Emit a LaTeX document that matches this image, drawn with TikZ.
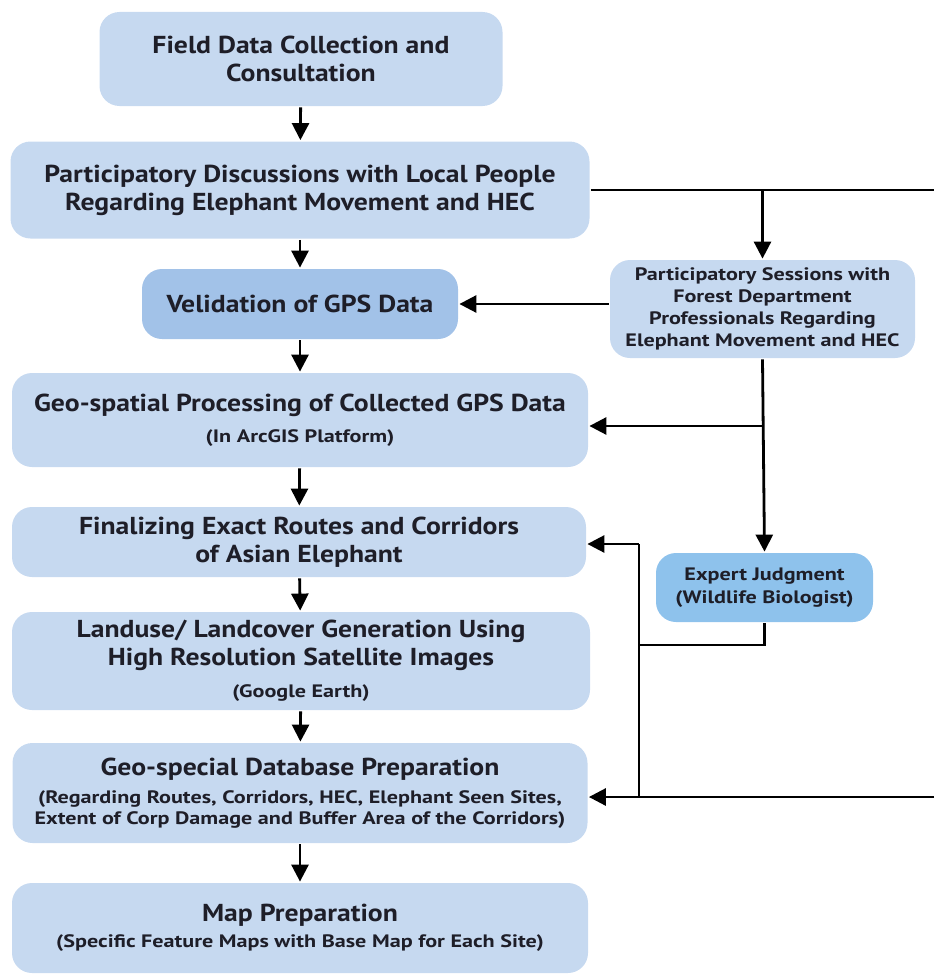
\documentclass[tikz,border=0pt]{standalone}
\usepackage{fontspec}
\setmainfont{PT Sans}[FakeStretch=1.13]
\newfontfamily\subfont{PT Sans}[FakeStretch=1.23]
\usetikzlibrary{arrows.meta}
\definecolor{boxblue}{HTML}{C6D9F0}
\definecolor{midblue}{HTML}{A2C2E8}
\definecolor{deepblue}{HTML}{8EC2EC}
\definecolor{inktext}{HTML}{1E1E28}
\newcommand{\subline}[1]{{\subfont\bfseries\fontsize{18}{21}\selectfont #1}}
\begin{document}
\begin{tikzpicture}[x=1pt, y=-1pt, line width=2.8pt, >={Triangle[width=17pt,length=17pt]},
    box/.style={fill=boxblue, rounded corners=20pt, align=center, inner sep=0pt, text=inktext, font=\bfseries\fontsize{24.5}{28}\selectfont},
    small/.style={font=\subfont\bfseries\fontsize{18}{22}\selectfont}]
    \useasboundingbox (0,0) rectangle (934,974);

    % main column
    \node[box, minimum width=403pt, minimum height=94pt] at (301, 59)   (A) {Field Data Collection and\\Consultation};
    \node[box, minimum width=579pt, minimum height=97pt] at (300, 190)  (B) {Participatory Discussions with Local People\\Regarding Elephant Movement and HEC};
    \node[box, fill=midblue, minimum width=316pt, minimum height=70pt] at (300, 304) (C) {Velidation of GPS Data};
    \node[box, minimum width=576pt, minimum height=94pt] at (300, 420) (D) {Geo-spatial Processing of Collected GPS Data\\[3pt]\subline{(In ArcGIS Platform)}};
    \node[box, minimum width=574pt, minimum height=70pt] at (299, 542) (E) {Finalizing Exact Routes and Corridors\\of Asian Elephant};
    \node[box, minimum width=578pt, minimum height=98pt] at (301, 661) (F) {Landuse/ Landcover Generation Using\\High Resolution Satellite Images\\[4pt]\subline{(Google Earth)}};
    \node[box, minimum width=575pt, minimum height=100pt] at (300, 793) (G) {Geo-special Database Preparation\\\subline{(Regarding Routes, Corridors, HEC, Elephant Seen Sites,}\\[-7pt]\subline{Extent of Corp Damage and Buffer Area of the Corridors)}};
    \node[box, minimum width=576pt, minimum height=90pt] at (300, 928) (H) {Map Preparation\\[-2.5pt]\subline{(Specific Feature Maps with Base Map for Each Site)}};

    % right column
    \node[box, small, minimum width=305pt, minimum height=98pt] at (762.5, 309) (S) {Participatory Sessions with\\Forest Department\\Professionals Regarding\\Elephant Movement and HEC};
    \node[box, small, fill=deepblue, minimum width=217pt, minimum height=69pt, font=\subfont\bfseries\fontsize{18}{23}\selectfont] at (764.5, 587.5) (W) {Expert Judgment\\(Wildlife Biologist)};

    \coordinate (R1) at (934, 190);
    \coordinate (R2) at (934, 797);
    \coordinate (P) at (639, 544);
    \coordinate (Q) at (639, 797);
    \coordinate (T) at (639, 645);

    \draw[->] (A) -- (B);
    \draw[->] (B) -- (C);
    \draw[->] (C) -- (D);
    \draw[->] (D) -- (E);
    \draw[->] (E) -- (F);
    \draw[->] (F) -- (G);
    \draw[->] (G) -- (H);

    \draw (B.east |- R1) -- (R1);
    \draw[->] (S.north |- R1) -- (S.north);
    \draw[->] (C.east -| S.west) -- (C.east);
    \draw[->] (S.south) -- (W.north);
    \draw[->] ([yshift=-6pt]S.south |- D.east) -- ([yshift=-6pt]D.east);
    \draw (W.south) |- (T);
    \draw (P) -- (Q);
    \draw[->] (P) -- (P -| E.east);
    \draw[->] (R2) -- (R2 -| G.east);

\end{tikzpicture}
\end{document}
